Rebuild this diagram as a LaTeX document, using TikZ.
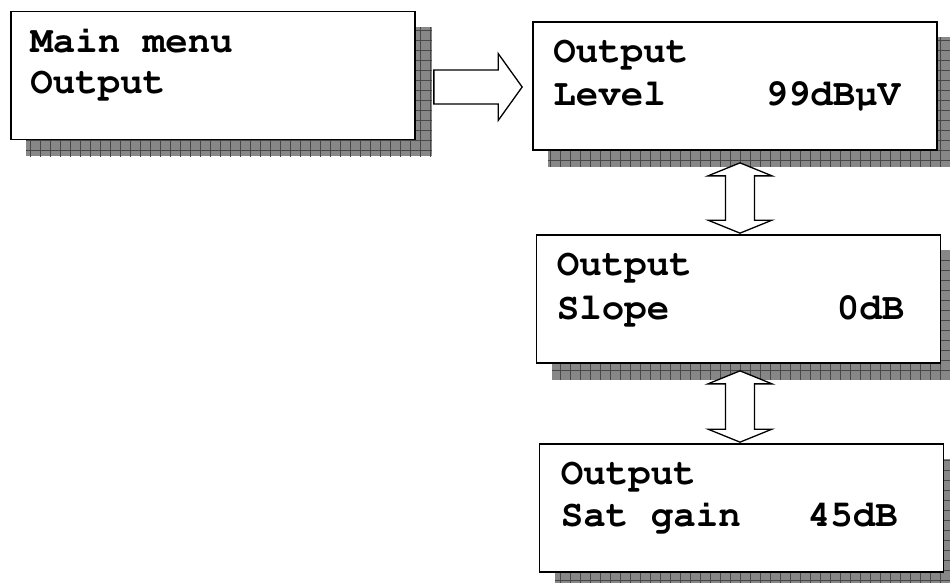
\documentclass[tikz,border=0pt]{standalone}
\usepackage[T1]{fontenc}
\usepackage{courier}
\usetikzlibrary{backgrounds}

\begin{document}
\begin{tikzpicture}[x=1pt,y=-1pt]

\tikzset{screen/.style = {shape=rectangle,draw,line width=1.7pt,fill=white,minimum width=404pt,minimum height=128pt,inner sep=0pt}}
\tikzset{lcd/.style = {anchor=base west,inner sep=0pt,font=\ttfamily\bfseries\fontsize{37.5}{43}\selectfont}}
\tikzset{hollow/.style = {draw,line width=1.3pt,fill=white,line join=miter}}
\tikzset{shade/.style = {fill=black!47}}
\useasboundingbox (0,0) rectangle (950,582);
\node[screen] (menu) at (213,75.5) {};
\node[screen] (level) at (735,86) {};
\node[screen] (slope) at (738.5,299) {};
\node[screen] (gain) at (741.5,508) {};
%texts
\node[lcd] (menu1) at ([shift={(20,42)}]menu.north west) {Main menu};
\node[lcd] (menu2) at ([shift={(20,83)}]menu.north west) {Output};
\node[lcd] (level1) at ([shift={(21,41)}]level.north west) {Output};
\node[lcd] (level2) at ([shift={(21,84)}]level.north west) {Level};
\node[lcd] (levelv) at ([shift={(233,84)}]level.north west) {99dB\textmu V};
\node[lcd] (slope1) at ([shift={(21,41)}]slope.north west) {Output};
\node[lcd] (slope2) at ([shift={(21,85)}]slope.north west) {Slope};
\node[lcd] (slopev) at ([shift={(301,85)}]slope.north west) {0dB};
\node[lcd] (gain1) at ([shift={(22,41)}]gain.north west) {Output};
\node[lcd] (gain2) at ([shift={(22,83)}]gain.north west) {Sat gain};
\node[lcd] (gainv) at ([shift={(269,83)}]gain.north west) {45dB};
%shadows
\begin{scope}[on background layer]
\foreach \n in {menu,level,slope,gain} {
  \fill[shade] ([shift={(16,16)}]\n.north west) rectangle ([shift={(16,16)}]\n.south east);
  \begin{scope}
    \clip ([shift={(16,16)}]\n.north west) rectangle ([shift={(16,16)}]\n.south east);
    \draw[black!72,line width=0.6pt,step=10pt] ([shift={(16,16)}]\n.north west) grid ([shift={(26,26)}]\n.south east);
  \end{scope}
}
\end{scope}
%arrows
\coordinate (r1) at ([shift={(-10,1)}]level.west);
\coordinate (m0) at ([xshift=18]menu.east);
\coordinate (r0) at (m0 |- r1);
\draw[hollow] ([shift={(0,-17)}]r0) -- ([shift={(-24,-17)}]r1) -- ([shift={(-24,-33.5)}]r1) -- (r1)
  -- ([shift={(-24,33.5)}]r1) -- ([shift={(-24,17)}]r1) -- ([shift={(0,17)}]r0) -- cycle;
\foreach \a/\b/\dx/\dy in {level/slope/5/12,slope/gain/1.5/7} {
  \coordinate (t0) at ([shift={(\dx,\dy)}]\a.south);
  \coordinate (t1) at (t0 |- \b.north);
  \draw[hollow] (t0) -- ++(32,13) -- ++(-17.5,0) -- ([shift={(14.5,-14)}]t1) -- ([shift={(32,-14)}]t1)
    -- ([shift={(0,-1)}]t1) -- ([shift={(-32,-14)}]t1) -- ([shift={(-14.5,-14)}]t1)
    -- ([shift={(-14.5,13)}]t0) -- ([shift={(-32,13)}]t0) -- cycle;
}
\end{tikzpicture}
\end{document}
